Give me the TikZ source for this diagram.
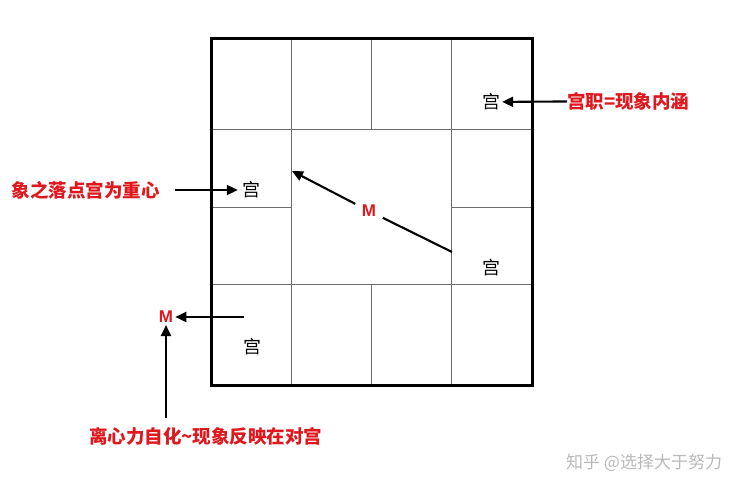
\documentclass[tikz,border=0pt]{standalone}
\usepackage{fontspec}
\setmainfont{Liberation Sans}
\newfontfamily\cjk{Noto Sans CJK SC}
\usetikzlibrary{arrows.meta}
\definecolor{notered}{RGB}{222,24,30}

\begin{document}
\begin{tikzpicture}
                [
                    x=1pt, y=-1pt,
                    frame/.style={line width=3pt},
                    cell line/.style={color=gray!85!black, line width=1pt},
                    pointer/.style={-{Triangle[length=11pt,width=10pt]}, line width=2.1pt},
                    plain line/.style={line width=2.1pt},
                    palace/.style={font=\cjk\fontsize{18}{18}\selectfont, inner sep=1pt},
                    note/.style={font=\cjk\bfseries\fontsize{18.5}{18.5}\selectfont, text=notered, inner sep=0pt},
                    mark M/.style={font=\bfseries\fontsize{17}{17}\selectfont, text=notered, inner sep=2pt},
                    watermark/.style={font=\cjk\fontsize{17}{17}\selectfont, text=gray!55, inner sep=0pt}
                ]
                \useasboundingbox (0,0) rectangle (747,495);

                % the sixteen palaces, centre merged
                \draw[cell line]
                (211,129) -- (532,129)
                (211,284) -- (532,284)
                (211,207) -- (291,207)
                (451,207) -- (532,207)
                (291,39) -- (291,385)
                (451,39) -- (451,385)
                (371,39) -- (371,129)
                (371,284) -- (371,385)
                ;
                \draw[frame] (211,39) rectangle (532,385);

                \node (palace tr) [palace] at (491,102) {宫};
                \node (palace l)  [palace] at (251,190) {宫};
                \node (palace r)  [palace] at (491,268) {宫};
                \node (palace bl) [palace] at (252,347) {宫};

                \node (duty)     [note, anchor=west] at (567,101) {宫职=现象内涵};
                \node (focus)    [note, anchor=east] at (160,190) {象之落点宫为重心};
                \node (opposite) [note, anchor=west] at (89,436) {离心力自化\textasciitilde 现象反映在对宫};
                \node (credit)   [watermark, anchor=west] at (566,463) {知乎 @选择大于努力};

                \node (M mid) [mark M, inner sep=6.5pt] at (369,211) {M};
                \node (M out) [mark M] at (166,317) {M};

                \coordinate (diag start) at (452,252);
                \coordinate (diag end)   at (292,171);
                \coordinate (bl start)   at (244,317);
                \coordinate (up start)   at (166,418);

                \path
                (duty)      edge [pointer, shorten >=1pt]  (palace tr)
                (focus)     edge [pointer, shorten <=15pt, shorten >=3pt] (palace l)
                (diag start) edge [plain line] (M mid)
                (M mid)     edge [pointer] (diag end)
                (bl start)  edge [pointer] (M out)
                (up start)  edge [pointer] (M out)
                ;
\end{tikzpicture}
\end{document}
